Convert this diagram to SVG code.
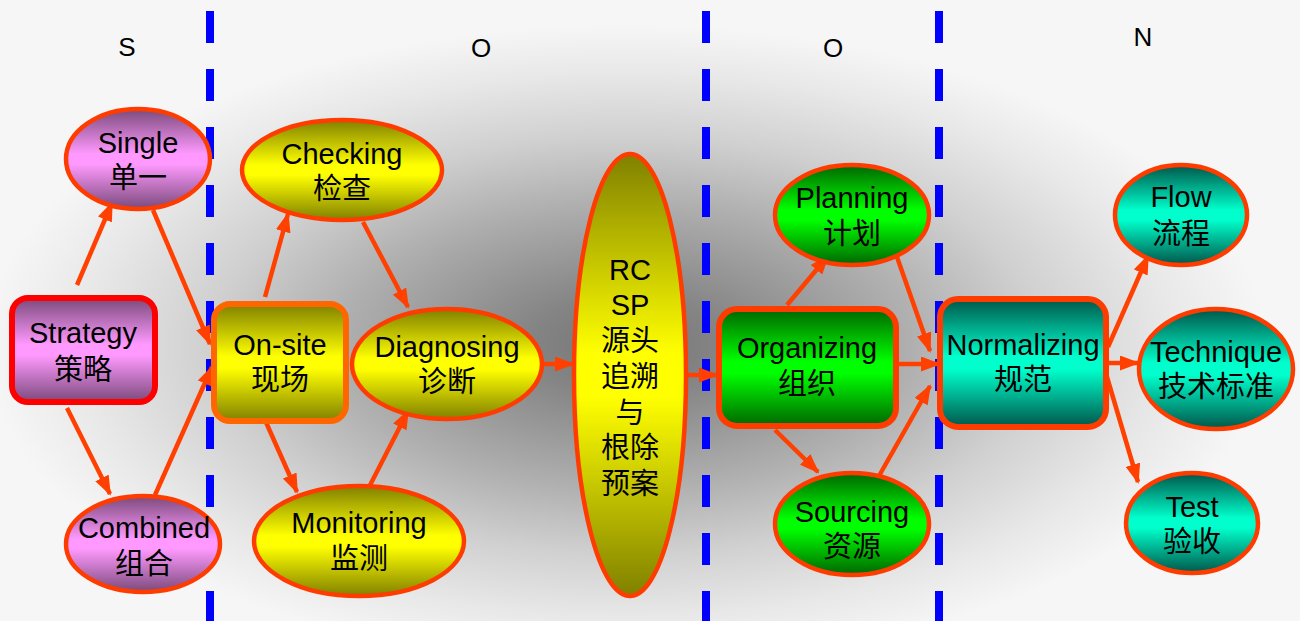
<svg xmlns="http://www.w3.org/2000/svg" width="1300" height="621" viewBox="0 0 1300 621">
<defs>
  <radialGradient id="bg" gradientUnits="userSpaceOnUse" cx="625" cy="345" r="640" gradientTransform="translate(625 345) scale(1 0.5) translate(-625 -345)">
    <stop offset="0" stop-color="#767676"/>
    <stop offset="0.15" stop-color="#848484"/>
    <stop offset="0.45" stop-color="#b0b0b0"/>
    <stop offset="0.65" stop-color="#d0d0d0"/>
    <stop offset="0.85" stop-color="#e8e8e8"/>
    <stop offset="1" stop-color="#f6f6f6"/>
  </radialGradient>
  <linearGradient id="gPurple" x1="0" y1="0" x2="0" y2="1">
    <stop offset="0" stop-color="#7a4a7a"/>
    <stop offset="0.45" stop-color="#ff99ff"/>
    <stop offset="0.55" stop-color="#ff99ff"/>
    <stop offset="1" stop-color="#7a4a7a"/>
  </linearGradient>
  <linearGradient id="gYellow" x1="0" y1="0" x2="0" y2="1">
    <stop offset="0" stop-color="#808000"/>
    <stop offset="0.45" stop-color="#ffff00"/>
    <stop offset="0.55" stop-color="#ffff00"/>
    <stop offset="1" stop-color="#808000"/>
  </linearGradient>
  <linearGradient id="gGreen" x1="0" y1="0" x2="0" y2="1">
    <stop offset="0" stop-color="#006600"/>
    <stop offset="0.45" stop-color="#00ff00"/>
    <stop offset="0.55" stop-color="#00ff00"/>
    <stop offset="1" stop-color="#006600"/>
  </linearGradient>
  <linearGradient id="gTeal" x1="0" y1="0" x2="0" y2="1">
    <stop offset="0" stop-color="#00564a"/>
    <stop offset="0.45" stop-color="#00ffcc"/>
    <stop offset="0.55" stop-color="#00ffcc"/>
    <stop offset="1" stop-color="#00564a"/>
  </linearGradient>
  <marker id="arr" markerUnits="userSpaceOnUse" markerWidth="20" markerHeight="15" viewBox="0 0 20 15" refX="18" refY="7.5" orient="auto">
    <path d="M0,0 L20,7.5 L0,15 z" fill="#ff4000"/>
  </marker>
  <style>
    text { font-family: "Liberation Sans", Arial, "Noto Sans CJK SC", sans-serif; font-size: 29px; fill: #000; text-anchor: middle; }
    .sec { font-size: 26px; }
    .ell { stroke: #ff3c00; stroke-width: 4.5; }
    .box { stroke: #ff3c00; stroke-width: 6; }
    .div { stroke: #0000ff; stroke-width: 8; stroke-dasharray: 32 26; }
    .conn line { stroke: #ff4000; stroke-width: 4.5; marker-end: url(#arr); }
  </style>
</defs>

<rect x="0" y="0" width="1300" height="621" fill="#ffffff"/>
<rect x="0" y="0" width="1300" height="621" fill="url(#bg)"/>

<g id="dividers">
  <line class="div" x1="210" y1="11" x2="210" y2="621"/>
  <line class="div" x1="706" y1="11" x2="706" y2="621"/>
  <line class="div" x1="939" y1="11" x2="939" y2="621"/>
</g>

<g id="sections">
  <text class="sec" x="127" y="56">S</text>
  <text class="sec" x="481" y="57">O</text>
  <text class="sec" x="833" y="57">O</text>
  <text class="sec" x="1143" y="46">N</text>
</g>

<g id="connectors" class="conn">
  <line x1="77" y1="285" x2="112" y2="203"/>
  <line x1="67" y1="408" x2="110" y2="494"/>
  <line x1="153" y1="210" x2="210" y2="344"/>
  <line x1="155" y1="495" x2="212" y2="367"/>
  <line x1="265" y1="297" x2="288" y2="214"/>
  <line x1="363" y1="222" x2="408" y2="307"/>
  <line x1="265" y1="420" x2="297" y2="492"/>
  <line x1="365" y1="495" x2="408" y2="411"/>
  <line x1="543" y1="364" x2="573" y2="364"/>
  <line x1="687" y1="375" x2="717" y2="375"/>
  <line x1="787" y1="305" x2="828" y2="256"/>
  <line x1="897" y1="257" x2="930" y2="351"/>
  <line x1="897" y1="364" x2="939" y2="364"/>
  <line x1="775" y1="430" x2="818" y2="472"/>
  <line x1="875" y1="483" x2="930" y2="386"/>
  <line x1="1108" y1="347" x2="1148" y2="256"/>
  <line x1="1108" y1="363" x2="1138" y2="363"/>
  <line x1="1107" y1="377" x2="1138" y2="482"/>
</g>

<g id="strategy">
  <rect x="12" y="298" width="143" height="104" rx="16" fill="url(#gPurple)" stroke="#ff0000" stroke-width="6"/>
  <text x="83" y="343">Strategy</text>
  <text x="83" y="380">策略</text>
</g>
<g id="single">
  <ellipse cx="138" cy="159" rx="72" ry="50" fill="url(#gPurple)" class="ell"/>
  <text x="138" y="153">Single</text>
  <text x="138" y="188">单一</text>
</g>
<g id="combined">
  <ellipse cx="143" cy="544" rx="77" ry="48" fill="url(#gPurple)" class="ell"/>
  <text x="144" y="538">Combined</text>
  <text x="144" y="574">组合</text>
</g>

<g id="onsite">
  <rect x="214" y="304" width="132" height="117" rx="16" fill="url(#gYellow)" stroke="#ff6600" stroke-width="6"/>
  <text x="280" y="355">On-site</text>
  <text x="280" y="390">现场</text>
</g>
<g id="checking">
  <ellipse cx="342" cy="170" rx="100" ry="50" fill="url(#gYellow)" class="ell"/>
  <text x="342" y="164">Checking</text>
  <text x="342" y="199">检查</text>
</g>
<g id="diagnosing">
  <ellipse cx="447" cy="364" rx="95" ry="55" fill="url(#gYellow)" class="ell"/>
  <text x="447" y="357">Diagnosing</text>
  <text x="447" y="392">诊断</text>
</g>
<g id="monitoring">
  <ellipse cx="359" cy="541" rx="105" ry="55" fill="url(#gYellow)" class="ell"/>
  <text x="359" y="533">Monitoring</text>
  <text x="359" y="569">监测</text>
</g>

<g id="rcsp">
  <ellipse cx="630" cy="375" rx="56" ry="221" fill="url(#gYellow)" class="ell"/>
  <text x="630" y="280">RC</text>
  <text x="630" y="315">SP</text>
  <text x="630" y="351">源头</text>
  <text x="630" y="387">追溯</text>
  <text x="630" y="423">与</text>
  <text x="630" y="458">根除</text>
  <text x="630" y="494">预案</text>
</g>

<g id="organizing">
  <rect x="719" y="309" width="177" height="117" rx="18" fill="url(#gGreen)" class="box"/>
  <text x="807" y="358">Organizing</text>
  <text x="807" y="394">组织</text>
</g>
<g id="planning">
  <ellipse cx="852" cy="215" rx="77" ry="50" fill="url(#gGreen)" class="ell"/>
  <text x="852" y="208">Planning</text>
  <text x="852" y="244">计划</text>
</g>
<g id="sourcing">
  <ellipse cx="852" cy="524" rx="77" ry="51" fill="url(#gGreen)" class="ell"/>
  <text x="852" y="522">Sourcing</text>
  <text x="852" y="557">资源</text>
</g>

<g id="normalizing">
  <rect x="940" y="299" width="166" height="128" rx="18" fill="url(#gTeal)" class="box"/>
  <text x="1023" y="355">Normalizing</text>
  <text x="1023" y="390">规范</text>
</g>
<g id="flow">
  <ellipse cx="1181" cy="215" rx="66" ry="50" fill="url(#gTeal)" class="ell"/>
  <text x="1181" y="207">Flow</text>
  <text x="1181" y="244">流程</text>
</g>
<g id="technique">
  <ellipse cx="1216" cy="369" rx="77" ry="60" fill="url(#gTeal)" class="ell"/>
  <text x="1216" y="362">Technique</text>
  <text x="1216" y="397">技术标准</text>
</g>
<g id="test">
  <ellipse cx="1192" cy="523" rx="66" ry="50" fill="url(#gTeal)" class="ell"/>
  <text x="1192" y="517">Test</text>
  <text x="1192" y="552">验收</text>
</g>
</svg>
